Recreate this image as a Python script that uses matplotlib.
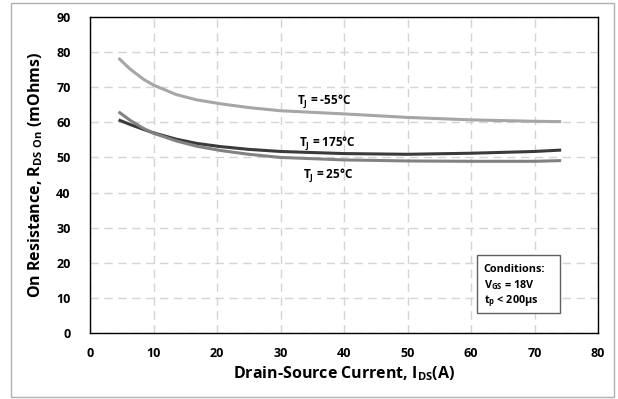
import matplotlib.pyplot as plt
from matplotlib.patches import Rectangle

plt.rcParams['font.family'] = ['Open Sans', 'DejaVu Sans']
plt.rcParams['mathtext.fontset'] = 'custom'
plt.rcParams['mathtext.rm'] = 'Open Sans'
plt.rcParams['mathtext.bf'] = 'Open Sans:bold'

# 讀圖估計的數據
x_pts = [4.5, 6.3, 8.4, 10, 13.6, 16.8, 20.5, 25, 30, 40, 50, 60, 70, 74.2]
r_m55 = [78.3, 75.2, 72.3, 70.6, 67.9, 66.4, 65.3, 64.2, 63.3, 62.4, 61.4, 60.7, 60.3, 60.2]
r_175 = [60.7, 59.4, 58.0, 57.0, 55.2, 54.0, 53.1, 52.3, 51.7, 51.1, 50.9, 51.2, 51.7, 52.1]
r_25 = [63.0, 60.6, 58.3, 56.9, 54.7, 53.2, 52.0, 50.9, 50.0, 49.3, 49.0, 48.9, 48.9, 49.1]

fig = plt.figure(figsize=(6.18, 3.99), dpi=100)
ax = fig.add_axes([90 / 618, 1 - 333 / 399, 508 / 618, 316 / 399])

# 外框
fig.patches.append(Rectangle((11 / 618, 2 / 399), 603 / 618, 394 / 399,
                             transform=fig.transFigure, fill=False,
                             edgecolor='#b0b0b0', linewidth=1))

ax.plot(x_pts, r_m55, color='#a6a6a6', lw=2.2, solid_capstyle='butt')
ax.plot(x_pts, r_175, color='#3a3a3a', lw=2.2, solid_capstyle='butt')
ax.plot(x_pts, r_25, color='#828282', lw=2.2, solid_capstyle='butt')

ax.set_xlim(0, 80)
ax.set_ylim(0, 90)
ax.set_xticks(range(0, 81, 10))
ax.set_yticks(range(0, 91, 10))
ax.grid(True, color='#d4d4d4', linestyle=(0, (6, 4)), linewidth=1)
ax.set_axisbelow(True)
ax.tick_params(labelsize=9, length=0)
ax.tick_params(axis='x', pad=10)
ax.tick_params(axis='y', pad=14)
for lab in ax.get_xticklabels() + ax.get_yticklabels():
    lab.set_fontweight('bold')
for s in ax.spines.values():
    s.set_color('black')
    s.set_linewidth(1)

ax.set_xlabel('Drain-Source Current, I$_{\\mathbf{DS}}$(A)', fontsize=11.5, fontweight='bold', labelpad=3)
ax.set_ylabel('On Resistance, R$_{\\mathbf{DS\\ On}}$ (mOhms)', fontsize=11.5, fontweight='bold', labelpad=8)

ax.text(36.9, 65.9, 'T$_{\\mathbf{J}}$ = -55°C', ha='center', va='center', fontsize=8.5, fontweight='bold')
ax.text(37.4, 54.0, 'T$_{\\mathbf{J}}$ = 175°C', ha='center', va='center', fontsize=8.5, fontweight='bold')
ax.text(37.5, 44.7, 'T$_{\\mathbf{J}}$ = 25°C', ha='center', va='center', fontsize=8.5, fontweight='bold')

ax.add_patch(Rectangle((60.9, 5.7), 13.1, 16.5, facecolor='white', edgecolor='#606060', linewidth=1, zorder=3))
ax.text(62.0, 18.2, 'Conditions:', ha='left', va='center', fontsize=7.8, fontweight='bold', zorder=4)
ax.text(62.0, 13.7, 'V$_{\\mathbf{GS}}$ = 18V', ha='left', va='center', fontsize=7.8, fontweight='bold', zorder=4)
ax.text(62.0, 9.1, 't$_{\\mathbf{p}}$ < 200µs', ha='left', va='center', fontsize=7.8, fontweight='bold', zorder=4)

plt.savefig('out.png', dpi=100)
